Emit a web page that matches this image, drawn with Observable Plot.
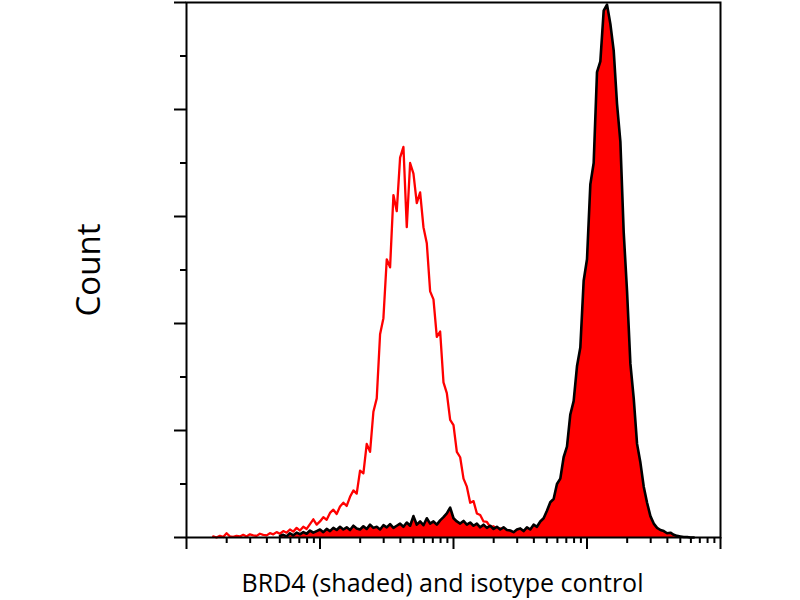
<!DOCTYPE html>
<html>
<head>
<meta charset="utf-8">
<script src="https://cdn.jsdelivr.net/npm/d3@7"></script>
<script src="https://cdn.jsdelivr.net/npm/@observablehq/plot@0.6"></script>
<style>
  html, body { margin: 0; padding: 0; background: #fff; }
</style>
</head>
<body>
<div id="chart"></div>
<script>
// Histogram bins in log10 decades of fluorescence
const binStep = 0.025;
const isotypeStart = 0.2;   // first bin (decade) of isotype control (red line)
const brd4Start = 0.7;      // first bin (decade) of BRD4 (shaded)

const isotypeCounts = [
  0.2,0,0.3,0.1,0.8,0.2,0.1,0.3,0.2,0.5,
  0.2,0.6,0.4,0.3,0.7,0.5,0.4,0.8,0.6,1.0,
  0.7,1.2,0.9,1.5,1.1,1.8,1.3,2.0,1.6,2.5,
  3.4,2.4,3.0,3.8,3.3,4.6,5.2,4.4,5.8,6.5,
  5.9,7.6,8.8,8.2,12.5,12.0,17.5,16.0,23.5,26.0,
  38.0,41.0,52.0,50.5,64.0,61.0,71.0,73.0,58.0,70.0,
  68.0,62.5,64.5,58.0,55.0,46.0,44.5,37.5,38.5,29.0,
  27.0,22.0,21.0,16.0,15.0,11.0,9.5,6.5,6.8,4.5,
  4.2,3.0,2.9,2.0,2.1,1.4,1.7,1.1,1.2,0.8,
  0.8,0.5,0.5,0.3,0.2,0.1,0
];

const brd4Counts = [
  0.3,0.5,0.2,0.8,0.4,0.9,0.6,1.0,0.7,1.3,
  0.9,1.2,1.5,1.0,1.6,1.2,1.8,1.4,2.0,1.5,
  1.9,1.4,2.2,1.7,1.5,2.1,1.6,2.4,1.8,2.0,
  1.5,2.3,1.9,2.5,1.8,2.2,2.6,2.0,2.8,2.2,
  4.0,2.4,3.0,2.3,3.6,2.6,3.0,2.4,3.2,3.8,
  4.5,5.6,3.6,3.0,2.6,3.1,2.4,2.8,2.2,2.6,
  1.9,2.4,1.8,2.2,1.6,2.0,1.5,1.9,1.4,1.3,
  1.0,1.5,1.7,1.2,1.9,1.5,2.4,2.0,3.0,3.6,
  5.0,6.6,7.2,10.0,11.0,15.0,17.0,23.0,25.5,32.0,
  35.5,48.0,52.0,66.0,70.0,87.0,89.0,98.5,99.6,96.0,
  91.0,81.0,74.0,57.0,46.0,32.5,26.0,17.5,14.0,9.5,
  6.5,4.0,2.6,1.8,1.4,1.2,0.8,0.9,0.5,0.3,
  0.2,0.1,0.1,0,0
];

const xMajorTicks = [1, 10, 100, 1000, 10000];
const xMinorTicks = [2,3,4,5,6,7,8,9, 20,30,40,50,60,70,80,90,
                     200,300,400,500,600,700,800,900, 2000,3000,4000,5000,6000,7000,8000,9000];
const yMajorTicks = [0, 20, 40, 60, 80, 100];
const yMinorTicks = [10, 30, 50, 70, 90];

const xLabel = "BRD4 (shaded) and isotype control";
const yLabel = "Count";

const isotype = isotypeCounts.map((c, i) => ({x: 10 ** (isotypeStart + i * binStep), y: c}));
const brd4 = brd4Counts.map((c, i) => ({x: 10 ** (brd4Start + i * binStep), y: c}));

const chart = Plot.plot({
  width: 800,
  height: 600,
  marginLeft: 186,
  marginRight: 80,
  marginTop: 2,
  marginBottom: 63,
  style: {fontFamily: "'Open Sans', sans-serif", background: "#fff", color: "#000"},
  x: {type: "log", domain: [1, 10000], axis: null},
  y: {domain: [0, 100], axis: null},
  marks: [
    Plot.areaY(brd4, {x: "x", y: "y", fill: "#ff0000"}),
    Plot.lineY(isotype, {x: "x", y: "y", stroke: "#ff0000", strokeWidth: 2.3}),
    Plot.lineY(brd4, {x: "x", y: "y", stroke: "#000", strokeWidth: 2.6}),
    Plot.axisX({ticks: xMajorTicks, tickSize: 12, tickFormat: () => "", strokeWidth: 2, label: null}),
    Plot.axisX({ticks: xMinorTicks, tickSize: 6, tickFormat: () => "", strokeWidth: 2, label: null}),
    Plot.axisY({ticks: yMajorTicks, tickSize: 12, tickFormat: () => "", strokeWidth: 2, label: null}),
    Plot.axisY({ticks: yMinorTicks, tickSize: 6, tickFormat: () => "", strokeWidth: 2, label: null}),
    Plot.frame({stroke: "#000", strokeWidth: 2}),
    Plot.text([xLabel], {frameAnchor: "bottom", textAnchor: "middle", lineAnchor: "middle", dy: 46, dx: -11, fontSize: 25, fill: "#000"}),
    Plot.text([yLabel], {frameAnchor: "left", textAnchor: "middle", lineAnchor: "middle", dx: -97, rotate: -90, fontSize: 33, fill: "#000"})
  ]
});
document.getElementById("chart").appendChild(chart);
</script>
</body>
</html>
